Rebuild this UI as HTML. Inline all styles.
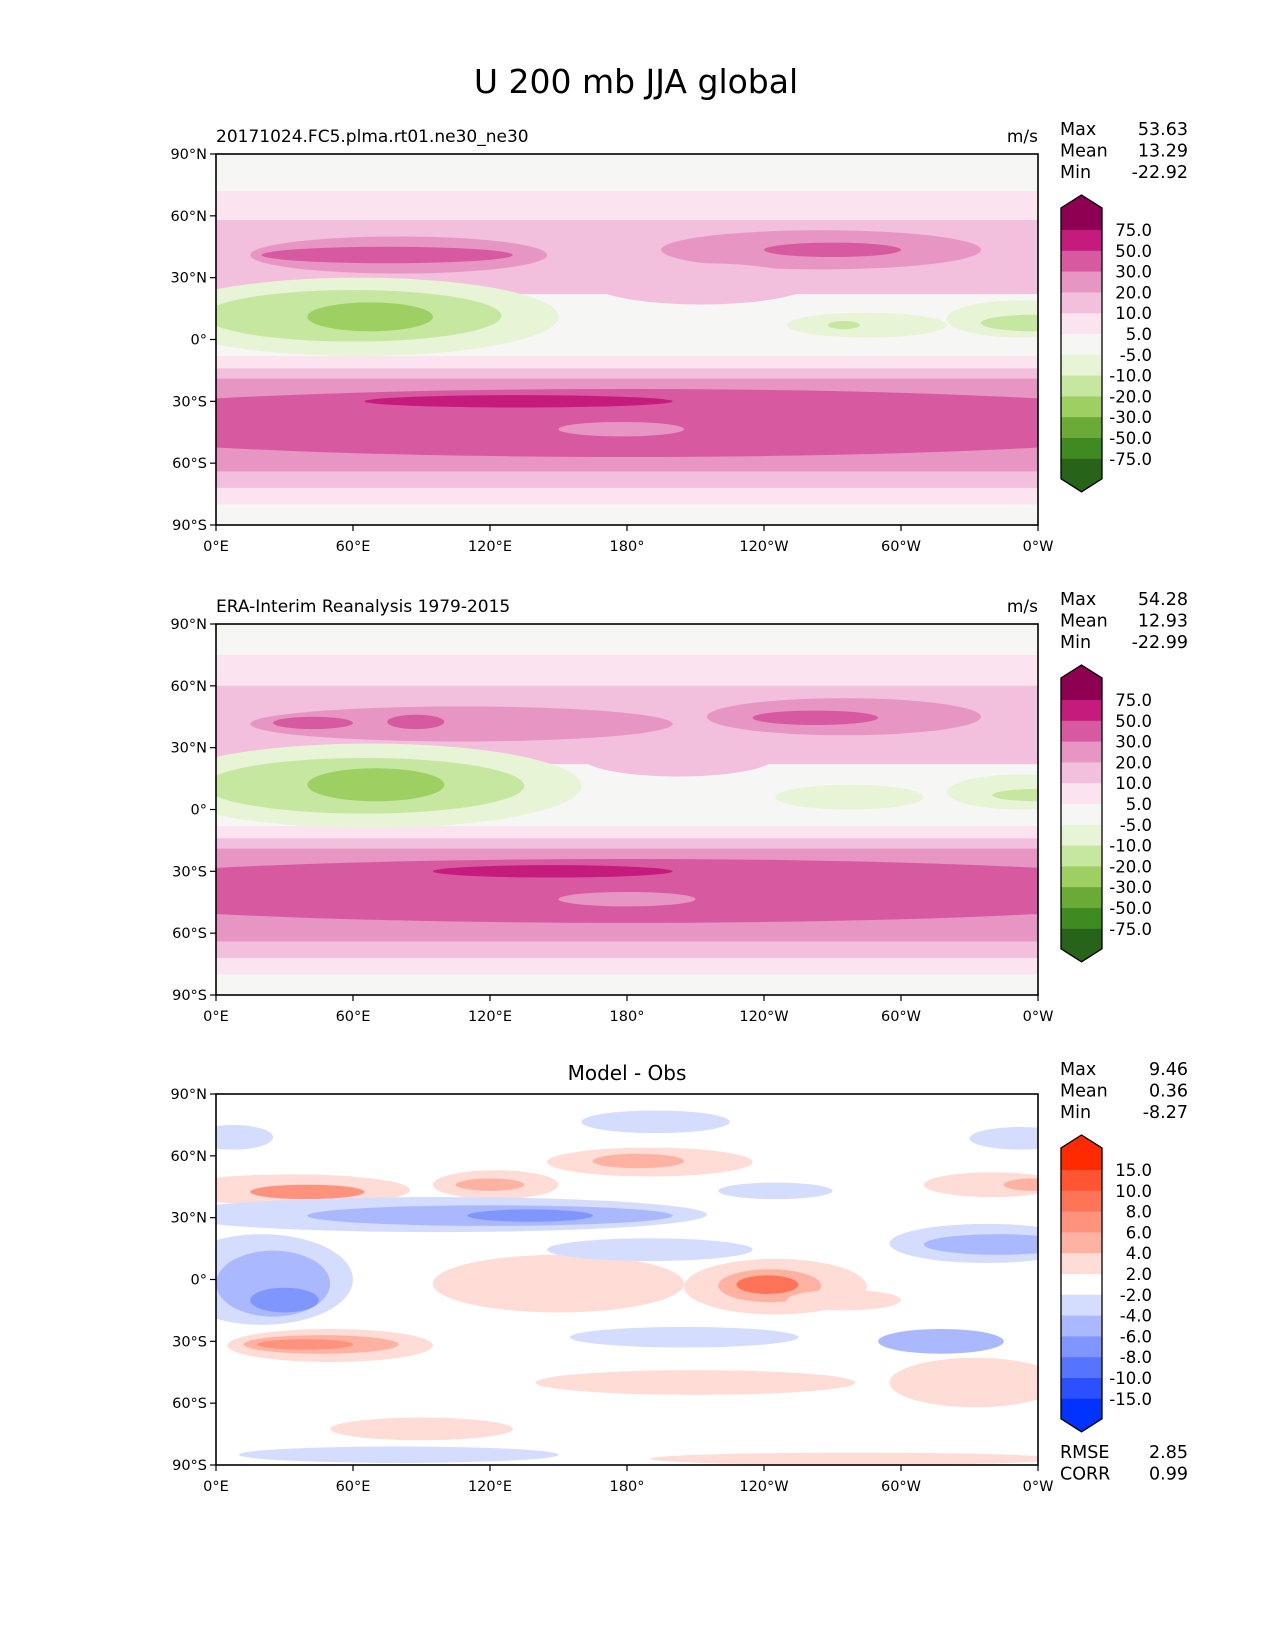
<!DOCTYPE html>
<html><head><meta charset="utf-8"><style>
body{margin:0;background:#fff;}
svg{display:block;font-family:"DejaVu Sans","Liberation Sans",sans-serif;}
</style></head><body>
<svg id="fig" width="1275" height="1650" viewBox="0 0 1275 1650">
<text x="636" y="93" font-size="33" text-anchor="middle">U 200 mb JJA global</text>
</svg>
<script>
const NS='http://www.w3.org/2000/svg';
const svg=document.getElementById('fig');
const PX0=216,PX1=1038,PH=371;
const panelTops=[154,624,1094];
const xTickLabels=['0°E','60°E','120°E','180°','120°W','60°W','0°W'];
const yTickLabels=['90°N','60°N','30°N','0°','30°S','60°S','90°S'];
const fieldColors=['#8e0152','#c51b7d','#d75aa0','#e796c4','#f2bfdc','#fbe4f0','#f6f6f4','#e7f4d6','#c6e7a0','#9dcf63','#6aab37','#408a22','#276419'];
const fieldLabels=['75.0','50.0','30.0','20.0','10.0','5.0','-5.0','-10.0','-20.0','-30.0','-50.0','-75.0'];
const diffColors=['#ff2a00','#ff5533','#ff7356','#ff927c','#ffb1a2','#ffdcd5','#ffffff','#d5ddff','#aab9ff','#8096ff','#5574ff','#2b50ff','#0033ff'];
const diffLabels=['15.0','10.0','8.0','6.0','4.0','2.0','-2.0','-4.0','-6.0','-8.0','-10.0','-15.0'];
const titles=['20171024.FC5.plma.rt01.ne30_ne30','ERA-Interim Reanalysis 1979-2015','Model - Obs'];
const statNames=['Max','Mean','Min'];
const statVals=[['53.63','13.29','-22.92'],['54.28','12.93','-22.99'],['9.46','0.36','-8.27']];
const diffScores=[['RMSE','2.85'],['CORR','0.99']];
// shapes: [kind, lon1, lon2, lat1, lat2, colorIndex]
const shapes1=[
['r',0,360,72,-80,5],['r',0,360,58,22,4],['e',15,145,50,32,3],['e',195,335,53,34,3],['e',20,130,45,37,2],['e',240,300,47,40,2],
['r',0,360,22,-9,6],['e',165,260,37,17,4],['r',0,360,-8,-16,5],['r',0,360,-14,-72,4],['r',0,360,-19,-64,3],['e',-80,440,-24,-57,2],
['e',150,205,-40,-47,3],['e',65,200,-27,-33,1],
['e',-25,150,30,-8,7],['e',-5,125,24,-1,8],['e',40,95,18,4,9],['e',250,320,13,1,7],['e',268,282,9,5,8],['e',320,385,19,1,7],['e',335,380,12,4,8]];
const shapes2=[
['r',0,360,75,-80,5],['r',0,360,60,22,4],['e',15,200,50,33,3],['e',215,335,54,36,3],['e',25,60,45,39,2],['e',75,100,46,39,2],['e',235,290,48,41,2],
['r',0,360,22,-8,6],['e',160,245,35,16,4],['r',0,360,-8,-15,5],['r',0,360,-14,-72,4],['r',0,360,-19,-64,3],['e',-80,440,-24,-55,2],
['e',150,210,-40,-47,3],['e',95,200,-27,-33,1],
['e',-25,160,32,-9,7],['e',-5,135,25,-2,8],['e',40,100,20,4,9],['e',245,310,12,0,7],['e',320,385,17,0,7],['e',340,380,10,4,8]];
const shapes3=[
['e',-10,25,75,63,7],['e',160,225,82,71,7],['e',330,375,74,63,7],['e',220,270,47,39,7],
['e',-20,85,51,36,5],['e',15,65,46,39,3],['e',95,150,53,39,5],['e',105,135,49,43,4],['e',145,235,64,50,5],['e',165,205,61,54,4],['e',310,370,52,40,5],['e',345,370,49,43,4],
['e',-20,215,40,23,7],['e',40,200,36,26,8],['e',110,165,34,28,9],['e',295,380,27,8,7],['e',310,375,22,12,8],
['e',-20,60,22,-22,7],['e',0,50,14,-18,8],['e',15,45,-4,-16,9],
['e',95,205,12,-16,5],['e',205,285,10,-17,5],['e',220,265,5,-11,4],['e',228,255,2,-7,2],['e',145,235,20,9,7],['e',250,300,-5,-15,5],
['e',5,95,-24,-40,5],['e',12,80,-27,-36,4],['e',18,60,-29,-34,3],
['e',155,255,-23,-33,7],['e',290,345,-24,-36,8],['e',140,280,-44,-56,5],['e',295,370,-38,-62,5],['e',50,130,-67,-78,5],['e',10,150,-81,-89,7],['e',190,370,-84,-90,5]];
const panelShapes=[shapes1,shapes2,shapes3];
const panelBg=['#f6f6f4','#f6f6f4','#ffffff'];
function el(t,a){const e=document.createElementNS(NS,t);for(const k in a)e.setAttribute(k,a[k]);return e;}
function xs(lon){return PX0+lon*(PX1-PX0)/360;}
function ys(top,lat){return top+(90-lat)*PH/180;}
panelTops.forEach((top,p)=>{
  const cols=p<2?fieldColors:diffColors;
  const g=el('g',{'clip-path':'url(#clip'+p+')'});
  
  
  const cp=el('clipPath',{id:'clip'+p});cp.appendChild(el('rect',{x:PX0,y:top,width:PX1-PX0,height:PH}));svg.appendChild(cp);
  g.appendChild(el('rect',{x:PX0,y:top,width:PX1-PX0,height:PH,fill:panelBg[p]}));
  panelShapes[p].forEach(s=>{
    let m;
    const x1=xs(s[1]),x2=xs(s[2]),y1=ys(top,s[3]),y2=ys(top,s[4]);
    if(s[0]==='r')m=el('rect',{x:x1,y:y1,width:x2-x1,height:y2-y1,fill:cols[s[5]]});
    else m=el('ellipse',{cx:(x1+x2)/2,cy:(y1+y2)/2,rx:(x2-x1)/2,ry:(y2-y1)/2,fill:cols[s[5]]});
    
    
    g.appendChild(m);
  });
  svg.appendChild(g);
  const fr=el('rect',{x:PX0,y:top,width:PX1-PX0,height:PH,fill:'none',stroke:'#000','stroke-width':1.6});
  
  
  svg.appendChild(fr);
  yTickLabels.forEach((t,i)=>{
    const y=top+i*PH/6;
    svg.appendChild(el('line',{x1:PX0-6,x2:PX0,y1:y,y2:y,stroke:'#000','stroke-width':1.2}));
    const tx=el('text',{x:PX0-9,y:y+5,'font-size':14.5,'text-anchor':'end'});tx.textContent=t;
    
    
    svg.appendChild(tx);
  });
  xTickLabels.forEach((t,i)=>{
    const x=PX0+i*(PX1-PX0)/6;
    svg.appendChild(el('line',{x1:x,x2:x,y1:top+PH,y2:top+PH+6,stroke:'#000','stroke-width':1.2}));
    const tx=el('text',{x:x,y:top+PH+26,'font-size':14.5,'text-anchor':'middle'});tx.textContent=t;
    
    
    svg.appendChild(tx);
  });
  const tt=el('text',p<2?{x:PX0,y:top-12,'font-size':17}:{x:(PX0+PX1)/2,y:top-14,'font-size':20,'text-anchor':'middle'});
  tt.textContent=titles[p];
  
  
  svg.appendChild(tt);
  if(p<2){const u=el('text',{x:PX1,y:top-12,'font-size':17,'text-anchor':'end'});u.textContent='m/s';
    
    
    svg.appendChild(u);}
  statNames.forEach((n,i)=>{
    const y=top-19+i*21.5;
    const a=el('text',{x:1060,y:y,'font-size':17.5});a.textContent=n;
    
    
    svg.appendChild(a);
    const b=el('text',{x:1188,y:y,'font-size':17.5,'text-anchor':'end'});b.textContent=statVals[p][i];
    
    
    svg.appendChild(b);
  });
  // colorbar
  const o=top-154, L=1061,R=1102, b0=230+o, bh=20.8;
  const cb=el('g',{});
  
  
  cb.appendChild(el('polygon',{points:`${(L+R)/2},${195+o} ${R},${208+o} ${R},${b0} ${L},${b0} ${L},${208+o}`,fill:cols[0]}));
  for(let i=1;i<12;i++)cb.appendChild(el('rect',{x:L,y:b0+(i-1)*bh,width:R-L,height:bh+0.5,fill:cols[i]}));
  const be=b0+11*bh;
  cb.appendChild(el('polygon',{points:`${L},${be} ${R},${be} ${R},${be+20} ${(L+R)/2},${be+33} ${L},${be+20}`,fill:cols[12]}));
  cb.appendChild(el('polygon',{points:`${(L+R)/2},${195+o} ${R},${208+o} ${R},${be+20} ${(L+R)/2},${be+33} ${L},${be+20} ${L},${208+o}`,fill:'none',stroke:'#000','stroke-width':1.3}));
  svg.appendChild(cb);
  (p<2?fieldLabels:diffLabels).forEach((t,i)=>{
    const tx=el('text',{x:1152,y:b0+i*bh+6,'font-size':16.5,'text-anchor':'end'});tx.textContent=t;
    
    
    svg.appendChild(tx);
  });
  if(p===2){diffScores.forEach((s,i)=>{
    const a=el('text',{x:1060,y:1458+i*21.5,'font-size':17.5});a.textContent=s[0];
    
    
    svg.appendChild(a);
    const b=el('text',{x:1188,y:1458+i*21.5,'font-size':17.5,'text-anchor':'end'});b.textContent=s[1];
    
    
    svg.appendChild(b);
  });}
});
</script>
</body></html>
